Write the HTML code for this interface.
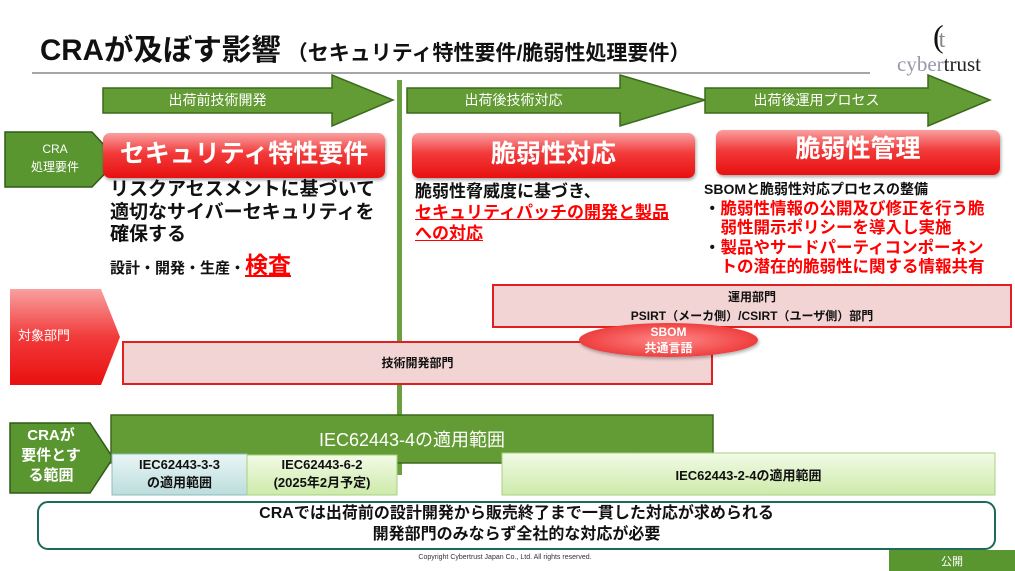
<!DOCTYPE html>
<html><head><meta charset="utf-8"><style>
*{margin:0;padding:0;box-sizing:border-box}
body{width:1015px;height:571px;position:relative;background:#fff;font-family:"Liberation Sans","Noto Sans CJK JP",sans-serif;overflow:hidden}
.a{position:absolute;white-space:nowrap}
.b{font-weight:bold}
.red{color:#ff0000}
.rb{position:absolute;border-radius:7px;background:linear-gradient(#f9a0a0,#f23a3a 45%,#e81010);box-shadow:1px 2px 3px rgba(0,0,0,.35);color:#fff;font-weight:bold;text-align:center}
.pk{position:absolute;background:#f2d4d4;border:2px solid #e02020;text-align:center;font-weight:bold;font-size:12px;color:#111}
.c{text-align:center}
</style></head><body>
<svg class="a" style="left:0;top:0" width="1015" height="571">
<line x1="32" y1="73" x2="870" y2="73" stroke="#888" stroke-width="1.5"/>
<polygon points="103,88 332,88 332,75 393,100 332,126 332,113 103,113" fill="#639c34" stroke="#3b6a1c" stroke-width="1.5"/>
<polygon points="407,88 620,88 620,75 705,100 620,126 620,113 407,113" fill="#639c34" stroke="#3b6a1c" stroke-width="1.5"/>
<polygon points="705,88 928,88 928,75 990,100 928,126 928,113 705,113" fill="#639c34" stroke="#3b6a1c" stroke-width="1.5"/>
<rect x="397" y="80" width="5" height="395" fill="#6aa040"/>
<polygon points="5,132 92,132 118,160 92,187 5,187" fill="#5a9630" stroke="#2f5a18" stroke-width="1.5"/>
<defs><linearGradient id="g1" x1="0" y1="0" x2="0" y2="1"><stop offset="0" stop-color="#f9a0a0"/><stop offset=".5" stop-color="#f23a3a"/><stop offset="1" stop-color="#e81010"/></linearGradient>
<linearGradient id="gb" x1="0" y1="0" x2="0" y2="1"><stop offset="0" stop-color="#eaf6f6"/><stop offset="1" stop-color="#bcdcdc"/></linearGradient>
<linearGradient id="gg" x1="0" y1="0" x2="0" y2="1"><stop offset="0" stop-color="#f2fbe6"/><stop offset="1" stop-color="#cdeaaa"/></linearGradient></defs>
<polygon points="10,289 101,289 120,337 101,385 10,385" fill="url(#g1)"/>
<polygon points="10,423 90,423 113,458 90,493 10,493" fill="#5a9630" stroke="#2f5a18" stroke-width="1.5"/>
<rect x="111" y="415" width="602" height="48" fill="#639c34" stroke="#3b6a1c" stroke-width="1.5"/>
<rect x="112" y="454" width="135" height="41" fill="url(#gb)" stroke="#8bbcbc"/>
<rect x="247" y="455" width="150" height="40" fill="url(#gg)" stroke="#a8d080"/>
<rect x="502" y="453" width="493" height="42" fill="url(#gg)" stroke="#a8d080"/>
<rect x="38" y="502" width="957" height="47" rx="10" fill="#fff" stroke="#1b6a5a" stroke-width="2"/>
<rect x="889" y="550" width="126" height="21" fill="#5a9630"/>
</svg>
<div class="a b" style="left:40px;top:27px;font-size:29.5px;color:#111">CRAが及ぼす影響<span style="font-size:21px"> （セキュリティ特性要件/脆弱性処理要件）</span></div>
<div class="a" style="left:933px;top:18px;font-size:32px;font-family:'Liberation Serif',serif;color:#111">(<span style="font-size:24px;color:#888;margin-left:-5px">t</span></div>
<div class="a" style="left:897px;top:52px;font-size:21px;font-family:'Liberation Serif',serif;color:#99a"><span>cyber</span><span style="color:#222">trust</span></div>
<div class="a" style="left:103px;top:90px;width:229px;font-size:14px;color:#fff;text-align:center">出荷前技術開発</div>
<div class="a" style="left:407px;top:90px;width:213px;font-size:14px;color:#fff;text-align:center">出荷後技術対応</div>
<div class="a" style="left:705px;top:90px;width:223px;font-size:14px;color:#fff;text-align:center">出荷後運用プロセス</div>
<div class="a c" style="left:5px;top:140px;width:100px;font-size:12px;color:#fff;line-height:18px">CRA<br>処理要件</div>
<div class="rb" style="left:103px;top:133px;width:282px;height:45px;font-size:25px;line-height:42px">セキュリティ特性要件</div>
<div class="rb" style="left:412px;top:133px;width:283px;height:45px;font-size:25px;line-height:42px">脆弱性対応</div>
<div class="rb" style="left:716px;top:130px;width:284px;height:45px;font-size:25px;line-height:38px">脆弱性管理</div>
<div class="a b" style="left:110px;top:179px;font-size:19px;line-height:22.5px;color:#111">リスクアセスメントに基づいて<br>適切なサイバーセキュリティを<br>確保する</div>
<div class="a b" style="left:110px;top:251px;font-size:15px;color:#111;line-height:28px">設計・開発・生産・<span class="red" style="font-size:23px;text-decoration:underline">検査</span></div>
<div class="a b" style="left:415px;top:181px;font-size:17px;line-height:21px;color:#111">脆弱性脅威度に基づき、<br><span class="red" style="text-decoration:underline">セキュリティパッチの開発と製品<br>への対応</span></div>
<div class="a b" style="left:704px;top:180px;font-size:14px;line-height:19.5px;color:#111">SBOMと脆弱性対応プロセスの整備<br><span style="font-size:16.5px">・<span class="red">脆弱性情報の公開及び修正を行う脆</span><br>　<span class="red">弱性開示ポリシーを導入し実施</span><br>・<span class="red">製品やサードパーティコンポーネン</span><br>　<span class="red">トの潜在的脆弱性に関する情報共有</span></span></div>
<div class="a" style="left:18px;top:325px;font-size:13px;color:#fff">対象部門</div>
<div class="pk" style="left:492px;top:284px;width:520px;height:44px;line-height:19px;padding-top:2px">運用部門<br>PSIRT（メーカ側）/CSIRT（ユーザ側）部門</div>
<div class="pk" style="left:122px;top:341px;width:591px;height:44px;line-height:40px">技術開発部門</div>
<div class="a c b" style="left:579px;top:323px;width:179px;height:34px;border-radius:50%;background:radial-gradient(#f88,#e82020);color:#fff;font-size:12px;line-height:16px;padding-top:1px;box-shadow:1px 2px 3px rgba(0,0,0,.3)">SBOM<br>共通言語</div>
<div class="a c b" style="left:10px;top:426px;width:82px;font-size:15px;line-height:20px;color:#fff">CRAが<br>要件とす<br>る範囲</div>
<div class="a c" style="left:111px;top:426px;width:602px;font-size:18px;color:#fff">IEC62443-4の適用範囲</div>
<div class="a c b" style="left:112px;top:456px;width:135px;font-size:13px;line-height:18px;color:#111">IEC62443-3-3<br>の適用範囲</div>
<div class="a c b" style="left:247px;top:456px;width:150px;font-size:13px;line-height:18px;color:#111">IEC62443-6-2<br>(2025年2月予定)</div>
<div class="a c b" style="left:502px;top:465px;width:493px;font-size:13px;color:#111">IEC62443-2-4の適用範囲</div>
<div class="a c b" style="left:38px;top:503px;width:957px;font-size:16px;line-height:21px;color:#111">CRAでは出荷前の設計開発から販売終了まで一貫した対応が求められる<br>開発部門のみならず全社的な対応が必要</div>
<div class="a c" style="left:380px;top:554px;width:250px;font-size:7px;color:#333">Copyright Cybertrust Japan Co., Ltd. All rights reserved.</div>
<div class="a c" style="left:889px;top:553px;width:126px;font-size:11px;color:#fff">公開</div>
</body></html>
